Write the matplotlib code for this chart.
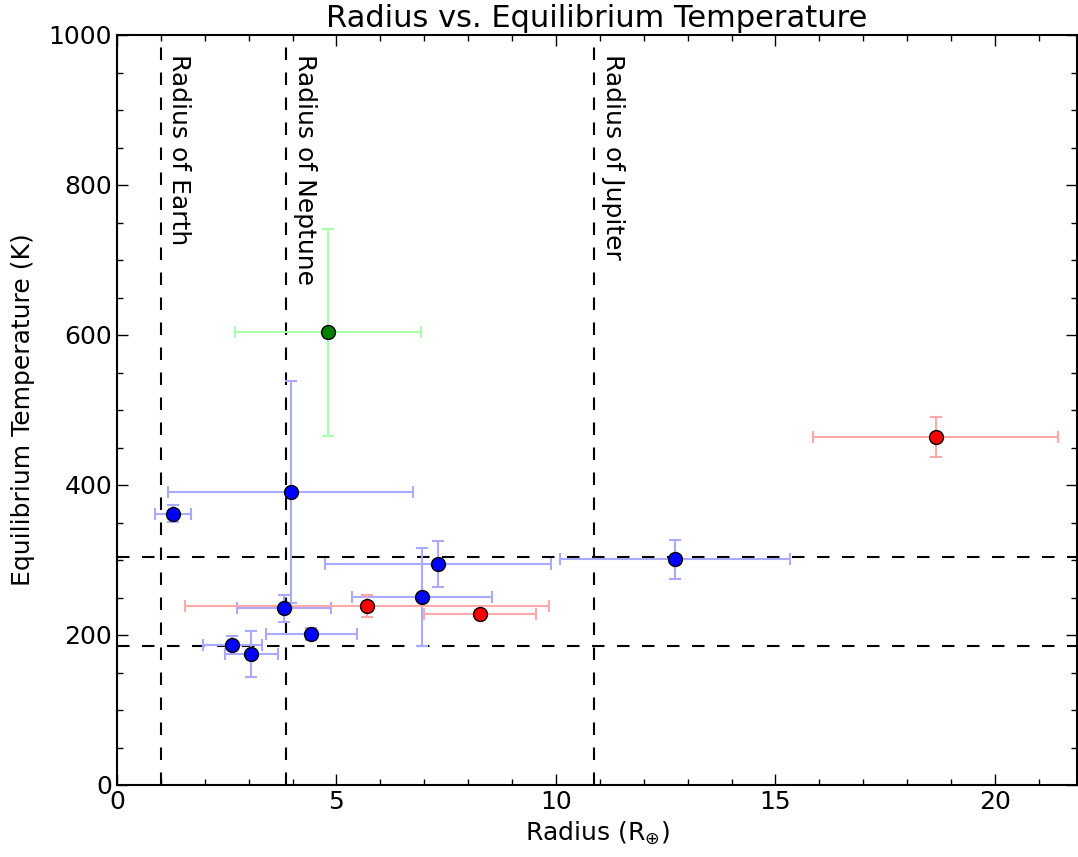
import matplotlib
matplotlib.use('Agg')
import matplotlib.pyplot as plt
import numpy as np

matplotlib.rc('font', **{'family': 'DejaVu Sans', 'size': 18})
matplotlib.rc('lines', scale_dashes=False)

# blue planets
blue_r = [1.28, 3.96, 3.80, 2.63, 3.06, 4.43, 6.95, 7.31, 12.71]
blue_rerr = [0.41, 2.79, 1.07, 0.67, 0.61, 1.03, 1.60, 2.57, 2.62]
blue_t = [362, 391, 236, 187, 175, 201, 251, 295, 301]
blue_terr = [11, 148, 18, 12, 31, 8, 65, 31, 26]

# red planets
red_r = [5.69, 8.27, 18.65]
red_rerr = [4.15, 1.27, 2.79]
red_t = [239, 228, 464]
red_terr = [15, 5, 27]

# green planet
green_r = [4.81]
green_rerr = [2.12]
green_t = [604]
green_terr = [138]

ref_radii = [1.0, 3.86, 10.87]
ref_names = ['Radius of Earth', 'Radius of Neptune', 'Radius of Jupiter']
ref_temps = [185, 304]

fig = plt.figure(figsize=(10.78, 8.57), dpi=100)
ax = fig.add_axes([117/1078, 72/857, 960/1078, 750/857])

for r, t, re, te, c, ec in [(blue_r, blue_t, blue_rerr, blue_terr, 'b', '#aaaaff'),
                            (red_r, red_t, red_rerr, red_terr, 'r', '#ffaaaa'),
                            (green_r, green_t, green_rerr, green_terr, 'g', '#aaffaa')]:
    ax.errorbar(r, t, xerr=re, yerr=te, fmt='none', ecolor=ec, elinewidth=1.5,
                capsize=4.5, capthick=1.5, zorder=2)
    ax.plot(r, t, 'o', color=c, markeredgecolor='k', markersize=10, zorder=3)

for x, name in zip(ref_radii, ref_names):
    ax.axvline(x, color='k', linestyle='--', dashes=(9, 9), linewidth=1.5, zorder=1)
    ax.text(x + 0.15, 975, name, rotation=-90, va='top', ha='left', fontsize=18)
for y in ref_temps:
    ax.axhline(y, color='k', linestyle='--', dashes=(9, 9), linewidth=1.5, zorder=1)

ax.set_xlim(0, 21.87)
ax.set_ylim(0, 1000)
ax.set_xticks([0, 5, 10, 15, 20])
ax.set_yticks([0, 200, 400, 600, 800, 1000])
ax.minorticks_on()
ax.tick_params(which='both', direction='in', top=True, right=True, labelsize=18)
ax.tick_params(which='major', length=8, width=1)
ax.tick_params(which='minor', length=4, width=1)
for s in ax.spines.values():
    s.set_linewidth(1.5)
ax.set_xlabel(r'Radius (R$_{\oplus}$)', fontsize=18)
ax.set_ylabel('Equilibrium Temperature (K)', fontsize=18, labelpad=10)
ax.set_title('Radius vs. Equilibrium Temperature', fontsize=22)

plt.savefig('out.png', dpi=100)
